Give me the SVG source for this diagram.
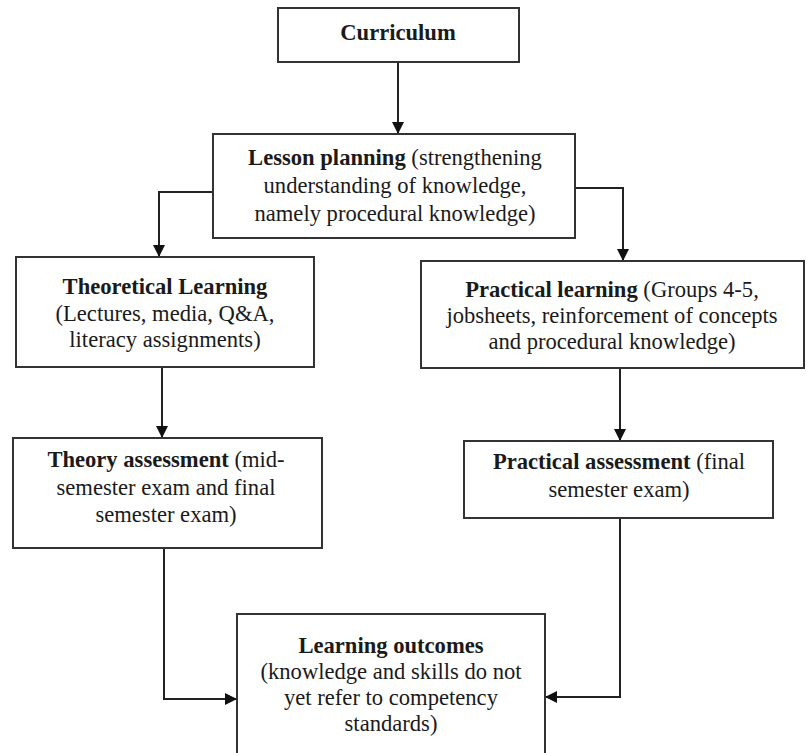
<svg xmlns="http://www.w3.org/2000/svg" width="806" height="753" viewBox="0 0 806 753">
  <style>
    .box { fill: #ffffff; stroke: #333333; stroke-width: 2; }
    .lbl { font-family: "Liberation Serif", "Times New Roman", serif; font-size: 22.6px; fill: #1a1a1a; text-anchor: middle; }
    .b { font-weight: bold; }
    .conn { fill: none; stroke: #222222; stroke-width: 2; }
  </style>
  <defs>
    <marker id="arrow" markerUnits="userSpaceOnUse" markerWidth="14" markerHeight="14" viewBox="0 0 14 14" refX="13" refY="7" orient="auto">
      <path d="M1,1 L13,7 L1,13 Z" fill="#111111"/>
    </marker>
  </defs>
  <rect x="0" y="0" width="806" height="753" fill="#ffffff"/>

  <g id="connectors">
    <path class="conn" d="M398,62 V134" marker-end="url(#arrow)"/>
    <path class="conn" d="M213,192 H159 V257" marker-end="url(#arrow)"/>
    <path class="conn" d="M575,188 H623 V261" marker-end="url(#arrow)"/>
    <path class="conn" d="M162,367 V438" marker-end="url(#arrow)"/>
    <path class="conn" d="M620,368 V441" marker-end="url(#arrow)"/>
    <path class="conn" d="M164,548 V699 H237" marker-end="url(#arrow)"/>
    <path class="conn" d="M620,518 V697 H545" marker-end="url(#arrow)"/>
  </g>

  <g id="curriculum">
    <rect class="box" x="278" y="8" width="241" height="54"/>
    <text class="lbl b" x="398" y="40">Curriculum</text>
  </g>

  <g id="lesson-planning">
    <rect class="box" x="213" y="134" width="362" height="104"/>
    <text class="lbl" x="395" y="165"><tspan class="b">Lesson planning</tspan> (strengthening</text>
    <text class="lbl" x="395" y="193">understanding of knowledge,</text>
    <text class="lbl" x="395" y="221">namely procedural knowledge)</text>
  </g>

  <g id="theoretical-learning">
    <rect class="box" x="16" y="257" width="298" height="110"/>
    <text class="lbl b" x="165" y="294">Theoretical Learning</text>
    <text class="lbl" x="165" y="321">(Lectures, media, Q&amp;A,</text>
    <text class="lbl" x="165" y="347">literacy assignments)</text>
  </g>

  <g id="practical-learning">
    <rect class="box" x="421" y="261" width="383" height="107"/>
    <text class="lbl" x="612" y="297"><tspan class="b">Practical learning</tspan> (Groups 4-5,</text>
    <text class="lbl" x="612" y="323">jobsheets, reinforcement of concepts</text>
    <text class="lbl" x="612" y="349">and procedural knowledge)</text>
  </g>

  <g id="theory-assessment">
    <rect class="box" x="13" y="438" width="309" height="110"/>
    <text class="lbl" x="166" y="467"><tspan class="b">Theory assessment</tspan> (mid-</text>
    <text class="lbl" x="166" y="495">semester exam and final</text>
    <text class="lbl" x="166" y="522">semester exam)</text>
  </g>

  <g id="practical-assessment">
    <rect class="box" x="464" y="441" width="309" height="77"/>
    <text class="lbl" x="619" y="469"><tspan class="b">Practical assessment</tspan> (final</text>
    <text class="lbl" x="619" y="497">semester exam)</text>
  </g>

  <g id="learning-outcomes">
    <rect class="box" x="237" y="614" width="308" height="160"/>
    <text class="lbl b" x="391" y="653">Learning outcomes</text>
    <text class="lbl" x="391" y="679">(knowledge and skills do not</text>
    <text class="lbl" x="391" y="705">yet refer to competency</text>
    <text class="lbl" x="391" y="731">standards)</text>
  </g>
</svg>
